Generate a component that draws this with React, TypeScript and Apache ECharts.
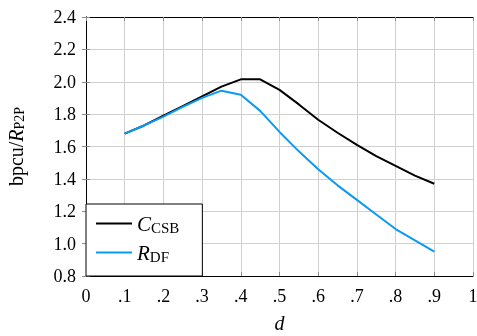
import React, { useEffect, useRef } from "react";
import * as echarts from "echarts";

const dValues = [0.1, 0.15, 0.2, 0.25, 0.3, 0.35, 0.4, 0.45, 0.5, 0.55, 0.6, 0.65, 0.7, 0.75, 0.8, 0.85, 0.9];
const cCSB = [1.68, 1.73, 1.79, 1.85, 1.91, 1.97, 2.015, 2.015, 1.95, 1.86, 1.765, 1.685, 1.61, 1.54, 1.48, 1.42, 1.37];
const rDF = [1.68, 1.73, 1.785, 1.845, 1.9, 1.945, 1.92, 1.82, 1.69, 1.57, 1.46, 1.36, 1.27, 1.18, 1.09, 1.02, 0.95];
const xTicks = [0, 0.1, 0.2, 0.3, 0.4, 0.5, 0.6, 0.7, 0.8, 0.9, 1];
const yTicks = [0.8, 1.0, 1.2, 1.4, 1.6, 1.8, 2.0, 2.2, 2.4];

const FONT = "Liberation Serif";

export default function App() {
  const ref = useRef<HTMLDivElement>(null);
  useEffect(() => {
    const chart = echarts.init(ref.current!, null, { renderer: "svg" });
    const gridColor = "#d0d0d0";
    const tickColor = "#8c8c8c";
    const fmtX = (v: number) =>
      "{a|" + (v === 0 ? "0" : v === 1 ? "1" : v.toFixed(1).replace("0.", ".")) + "}";
    const labelRich = { a: { fontFamily: FONT, fontSize: 18, color: "#000" } };
    chart.setOption({
      animation: false,
      textStyle: { fontFamily: FONT },
      grid: { left: 86, right: 4, top: 17, bottom: 60, outerBoundsMode: "none", containLabel: false },
      xAxis: [
        {
          type: "value",
          min: 0,
          max: 1,
          interval: 0.1,
          name: "{d|d}",
          nameLocation: "middle",
          nameGap: 37,
          nameTextStyle: { rich: { d: { fontFamily: FONT, fontStyle: "italic", fontSize: 20, color: "#000" } } },
          axisLine: { show: true, lineStyle: { color: "#000", width: 1 } },
          axisTick: { show: true, inside: true, length: 4, lineStyle: { color: tickColor } },
          axisLabel: { formatter: fmtX, rich: labelRich, margin: 11 },
          splitLine: { show: true, lineStyle: { color: gridColor, width: 1 } },
        },
        {
          type: "value",
          position: "top",
          min: 0,
          max: 1,
          interval: 0.1,
          axisLine: { show: true, lineStyle: { color: "#000", width: 1 } },
          axisTick: { show: true, inside: true, length: 4, lineStyle: { color: tickColor } },
          axisLabel: { show: false },
          splitLine: { show: false },
        },
      ],
      yAxis: [
        {
          type: "value",
          min: 0.8,
          max: 2.4,
          interval: 0.2,
          name: "{n|bpcu/}{i|R}{s|P2P}",
          nameLocation: "middle",
          nameGap: 60,
          nameTextStyle: {
            color: "#000",
            rich: {
              n: { fontFamily: FONT, fontSize: 20, color: "#000" },
              i: { fontFamily: FONT, fontSize: 20, fontStyle: "italic", color: "#000" },
              s: { fontFamily: FONT, fontSize: 14, color: "#000", padding: [7, 0, 0, 0] },
            },
          },
          axisLine: { show: true, lineStyle: { color: "#000", width: 1 } },
          axisTick: { show: true, inside: true, length: 4, lineStyle: { color: tickColor } },
          axisLabel: {
            formatter: (v: number) => "{a|" + v.toFixed(1) + "}",
            rich: labelRich,
            margin: 10,
          },
          splitLine: { show: true, lineStyle: { color: gridColor, width: 1 } },
        },
        {
          type: "value",
          position: "right",
          min: 0.8,
          max: 2.4,
          interval: 0.2,
          axisLine: { show: true, lineStyle: { color: "#000", width: 1 } },
          axisTick: { show: true, inside: true, length: 4, lineStyle: { color: tickColor } },
          axisLabel: { show: false },
          splitLine: { show: false },
        },
      ],
      legend: {
        orient: "vertical",
        left: 86,
        top: 204,
        backgroundColor: "#fff",
        borderColor: "#000",
        borderWidth: 1,
        borderRadius: 0,
        padding: [9, 23, 12, 10],
        itemGap: 7,
        itemWidth: 36,
        itemHeight: 2,
        data: [
          { name: "C", icon: "path://M0,0H36V2H0Z" },
          { name: "R", icon: "path://M0,0H36V2H0Z" },
        ],
        formatter: (name: string) => (name === "C" ? "{i|C}{s|CSB}" : "{i|R}{s|DF}"),
        textStyle: {
          rich: {
            i: { fontFamily: FONT, fontSize: 21, fontStyle: "italic", color: "#000" },
            s: { fontFamily: FONT, fontSize: 15, color: "#000", padding: [8, 0, 0, 0] },
          },
        },
      },
      series: [
        {
          name: "C",
          type: "line",
          symbol: "none",
          data: dValues.map((d, i) => [d, cCSB[i]]),
          lineStyle: { color: "#000", width: 2 },
          itemStyle: { color: "#000" },
        },
        {
          name: "R",
          type: "line",
          symbol: "none",
          data: dValues.map((d, i) => [d, rDF[i]]),
          lineStyle: { color: "#0a9af5", width: 2 },
          itemStyle: { color: "#0a9af5" },
        },
      ],
    });
    return () => chart.dispose();
  }, []);
  return <div ref={ref} style={{ position: "fixed", left: 0, top: 0, width: 477, height: 336 }} />;
}
